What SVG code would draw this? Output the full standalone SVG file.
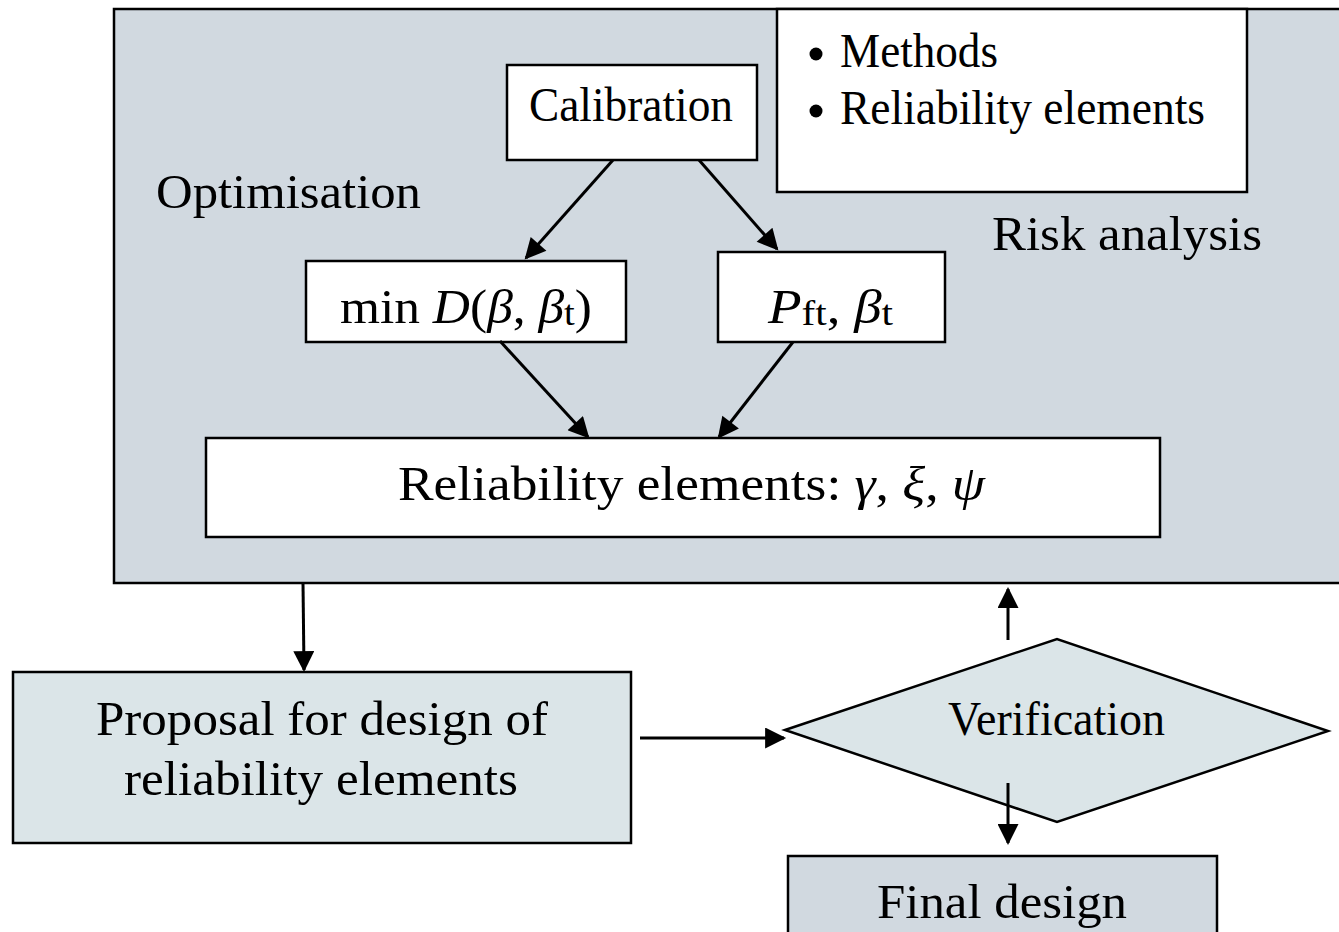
<svg xmlns="http://www.w3.org/2000/svg" width="1339" height="932" viewBox="0 0 1339 932">
<style>
.t{font-family:"Liberation Serif","Times New Roman",serif;font-size:48px;fill:#000}
.i{font-style:italic}
.box{stroke:#000;stroke-width:2.5}
.ln{stroke:#000;stroke-width:3;fill:none}
</style>
<defs>
<marker id="ah" viewBox="0 0 10 10" refX="9" refY="5" markerWidth="8" markerHeight="7" markerUnits="strokeWidth" orient="auto">
<path d="M0,0 L10,5 L0,10 z" fill="#000"/>
</marker>
</defs>
<rect width="1339" height="932" fill="#fff"/>
<g id="main-area">
<rect class="box" x="114" y="9" width="1235" height="574" fill="#d1d9e0"/>
<text class="t" x="156" y="208" textLength="265" lengthAdjust="spacingAndGlyphs">Optimisation</text>
<text class="t" x="992" y="250" textLength="270" lengthAdjust="spacingAndGlyphs">Risk analysis</text>
</g>
<g id="methods">
<rect class="box" x="777" y="9" width="470" height="183" fill="#fff"/>
<circle cx="816" cy="54" r="6.5"/>
<text class="t" x="840" y="67" textLength="158" lengthAdjust="spacingAndGlyphs">Methods</text>
<circle cx="816" cy="111" r="6.5"/>
<text class="t" x="840" y="124" textLength="365" lengthAdjust="spacingAndGlyphs">Reliability elements</text>
</g>
<g id="calibration">
<rect class="box" x="507" y="65" width="250" height="95" fill="#fff"/>
<text class="t" x="529" y="121" textLength="204" lengthAdjust="spacingAndGlyphs">Calibration</text>
</g>
<g id="minD">
<rect class="box" x="306" y="261" width="320" height="81" fill="#fff"/>
<text class="t" x="340" y="323" font-size="53" textLength="252" lengthAdjust="spacingAndGlyphs">min <tspan class="i">D</tspan>(<tspan class="i">β</tspan>, <tspan class="i">β</tspan><tspan font-size="36" dy="2">t</tspan><tspan dy="-2">)</tspan></text>
</g>
<g id="pft">
<rect class="box" x="718" y="252" width="227" height="90" fill="#fff"/>
<text class="t" x="768" y="323" font-size="53" textLength="125" lengthAdjust="spacingAndGlyphs"><tspan class="i">P</tspan><tspan font-size="36" dy="2">ft</tspan><tspan dy="-2">, </tspan><tspan class="i">β</tspan><tspan font-size="36" dy="2">t</tspan></text>
</g>
<g id="reliability">
<rect class="box" x="206" y="438" width="954" height="99" fill="#fff"/>
<text class="t" x="398" y="500" textLength="587" lengthAdjust="spacingAndGlyphs">Reliability elements: <tspan class="i">γ</tspan>, <tspan class="i">ξ</tspan>, <tspan class="i">ψ</tspan></text>
</g>
<g id="proposal">
<rect class="box" x="13" y="672" width="618" height="171" fill="#dbe5e8"/>
<text class="t" x="96" y="735" textLength="452" lengthAdjust="spacingAndGlyphs">Proposal for design of</text>
<text class="t" x="124" y="795" textLength="394" lengthAdjust="spacingAndGlyphs">reliability elements</text>
</g>
<g id="verification">
<polygon class="box" points="785,730 1057,639 1328,731 1057,822" fill="#dbe5e8"/>
<text class="t" x="948" y="735" textLength="217" lengthAdjust="spacingAndGlyphs" font-size="44">Verification</text>
</g>
<g id="final">
<rect class="box" x="788" y="856" width="429" height="90" fill="#d1d9e0"/>
<text class="t" x="877" y="918" textLength="250" lengthAdjust="spacingAndGlyphs">Final design</text>
</g>
<g id="connectors">
<line class="ln" x1="613" y1="160" x2="526" y2="258" marker-end="url(#ah)"/>
<line class="ln" x1="699" y1="160" x2="777" y2="249" marker-end="url(#ah)"/>
<line class="ln" x1="500" y1="341" x2="588" y2="437" marker-end="url(#ah)"/>
<line class="ln" x1="793" y1="342" x2="719" y2="437" marker-end="url(#ah)"/>
<line class="ln" x1="303" y1="583" x2="304" y2="670" marker-end="url(#ah)"/>
<line class="ln" x1="640" y1="738" x2="784" y2="738" marker-end="url(#ah)"/>
<line class="ln" x1="1008" y1="640" x2="1008" y2="589" marker-end="url(#ah)"/>
<line class="ln" x1="1008" y1="783" x2="1008" y2="843" marker-end="url(#ah)"/>
</g>
</svg>
